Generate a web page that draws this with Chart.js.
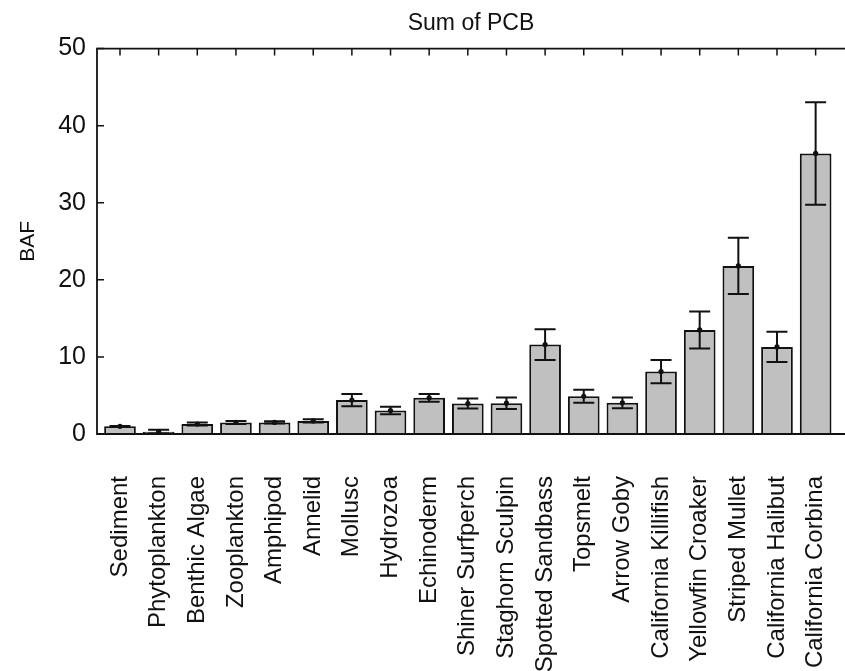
<!DOCTYPE html>
<html>
<head>
<meta charset="utf-8">
<script src="https://cdn.jsdelivr.net/npm/chart.js@4.4.1/dist/chart.umd.min.js"></script>
<style>
html,body{margin:0;padding:0;background:#fff;overflow:hidden;}
canvas{display:block;}
</style>
</head>
<body>
<canvas id="c" width="845" height="671"></canvas>
<script>
const categories = ["Sediment","Phytoplankton","Benthic Algae","Zooplankton","Amphipod","Annelid","Mollusc","Hydrozoa","Echinoderm","Shiner Surfperch","Staghorn Sculpin","Spotted Sandbass","Topsmelt","Arrow Goby","California Killifish","Yellowfin Croaker","Striped Mullet","California Halibut","California Corbina"];
const means = [1.0, 0.3, 1.3, 1.5, 1.5, 1.7, 4.4, 3.05, 4.7, 3.95, 4.0, 11.6, 4.9, 4.05, 8.1, 13.5, 21.8, 11.3, 36.4];
const errors = [0.05, 0.25, 0.2, 0.2, 0.15, 0.2, 0.8, 0.5, 0.5, 0.65, 0.75, 2.0, 0.85, 0.7, 1.5, 2.4, 3.65, 1.95, 6.65];
const yTicks = [0, 10, 20, 30, 40, 50];
const titleText = "Sum of PCB";
const yTitle = "BAF";

const FONT = "'Liberation Sans', Arial, Helvetica, sans-serif";

const framePlugin = {
  id: 'frame',
  afterDatasetsDraw(chart) {
    const ctx = chart.ctx, a = chart.chartArea;
    const xs = chart.scales.x, ys = chart.scales.y;
    ctx.save();
    ctx.strokeStyle = '#111';
    ctx.fillStyle = '#111';
    ctx.lineWidth = 2;
    means.forEach((m, i) => {
      const x = xs.getPixelForValue(i);
      const yt = ys.getPixelForValue(m + errors[i]);
      const yb = ys.getPixelForValue(m - errors[i]);
      const ym = ys.getPixelForValue(m);
      const cw = 10.5;
      ctx.beginPath();
      ctx.moveTo(x, yt); ctx.lineTo(x, yb);
      ctx.moveTo(x - cw, yt); ctx.lineTo(x + cw, yt);
      ctx.moveTo(x - cw, yb); ctx.lineTo(x + cw, yb);
      ctx.stroke();
      ctx.beginPath();
      ctx.arc(x, ym, 2.6, 0, Math.PI * 2);
      ctx.fill();
    });
    ctx.lineWidth = 1.8;
    ctx.beginPath();
    ctx.moveTo(a.right + 2, a.top); ctx.lineTo(a.left, a.top);
    ctx.lineTo(a.left, a.bottom); ctx.lineTo(a.right + 2, a.bottom);
    ctx.stroke();
    ctx.lineWidth = 1.5;
    ctx.beginPath();
    yTicks.forEach(v => {
      const y = ys.getPixelForValue(v);
      ctx.moveTo(a.left, y); ctx.lineTo(a.left + 7, y);
    });
    categories.forEach((c, i) => {
      const x = xs.getPixelForValue(i);
      ctx.moveTo(x, a.top); ctx.lineTo(x, a.top + 7);
    });
    ctx.stroke();
    ctx.restore();
  }
};

new Chart(document.getElementById('c'), {
  type: 'bar',
  data: {
    datasets: [{
      data: means.map((m, i) => ({x: i, y: m})),
      backgroundColor: '#c0c0c0',
      borderColor: '#111',
      borderWidth: 2,
      barPercentage: 0.82,
      categoryPercentage: 1.0
    }]
  },
  options: {
    responsive: false,
    devicePixelRatio: 1,
    animation: false,
    layout: { padding: { left: 0, right: 0, top: 0, bottom: 0 } },
    plugins: {
      legend: { display: false },
      tooltip: { enabled: false },
      title: {
        display: true,
        text: titleText,
        fullSize: false,
        color: '#111',
        font: { family: FONT, size: 23, weight: 'normal' },
        padding: { top: 10, bottom: 11 }
      }
    },
    scales: {
      x: {
        type: 'linear',
        min: -0.595,
        max: 18.76,
        offset: false,
        grid: { display: false, drawTicks: false },
        border: { display: false },
        afterBuildTicks: s => { s.ticks = categories.map((c, i) => ({ value: i })); },
        afterFit: s => { s.height = 671 - 434; s.paddingLeft = 0; s.paddingRight = 0; },
        ticks: {
          autoSkip: false,
          maxRotation: 90,
          minRotation: 90,
          padding: 42,
          color: '#111',
          font: { family: FONT, size: 24 },
          callback: v => categories[v]
        }
      },
      y: {
        min: 0,
        max: 50,
        grid: { display: false, drawTicks: false },
        border: { display: false },
        afterBuildTicks: s => { s.ticks = yTicks.map(v => ({ value: v })); },
        afterFit: s => { s.width = 97; },
        ticks: {
          padding: 11,
          color: '#111',
          font: { family: FONT, size: 25 }
        },
        title: {
          display: true,
          text: yTitle,
          color: '#111',
          font: { family: FONT, size: 21 },
          padding: { top: 16, bottom: 0 }
        }
      }
    }
  },
  plugins: [framePlugin]
});
</script>
</body>
</html>
